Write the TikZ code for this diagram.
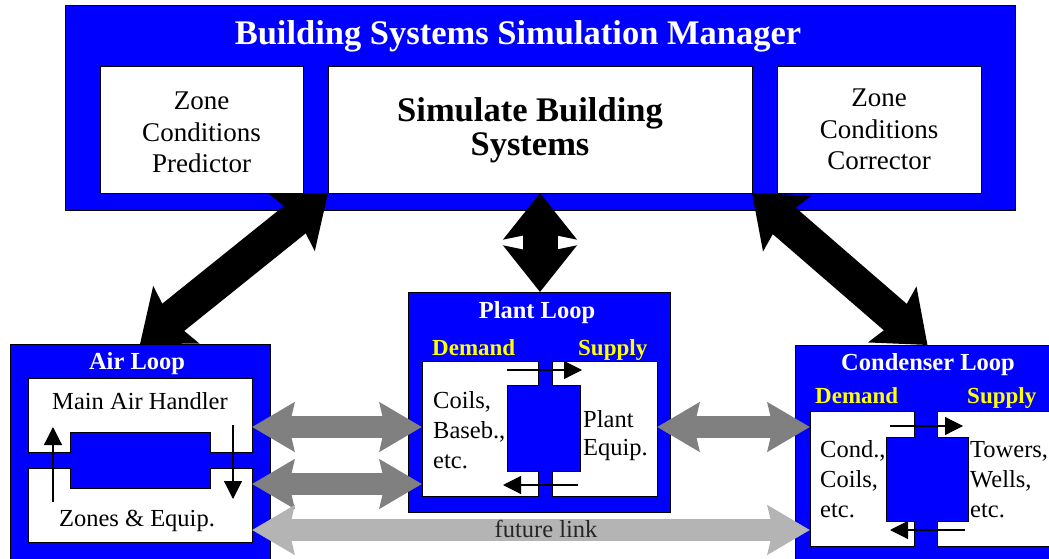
\documentclass[tikz,border=0pt]{standalone}
\usepackage{fontspec}
\setmainfont{Liberation Serif}
\usetikzlibrary{arrows.meta}
\definecolor{loopblue}{RGB}{0,0,255}
\definecolor{darkgrey}{RGB}{128,128,128}
\definecolor{lightgrey}{RGB}{180,180,180}
\definecolor{labelyellow}{RGB}{255,255,0}
\begin{document}
\begin{tikzpicture}[x=1pt,y=-1pt,
  bluebox/.style={draw=black, fill=loopblue, line width=0.8pt, inner sep=0pt, outer sep=0pt},
  whitebox/.style={draw=black, fill=white, line width=0.8pt, inner sep=0pt, outer sep=0pt},
  whiteshape/.style={draw=black, fill=white, line width=0.8pt},
  bigarrow/.style={line width=35pt, black, {Stealth[length=46pt,width=72pt,inset=7pt]}-{Stealth[length=46pt,width=72pt,inset=7pt]}},
  greyarrow/.style={line width=22pt, darkgrey, {Stealth[length=42pt,width=48pt,inset=5pt]}-{Stealth[length=42pt,width=48pt,inset=5pt]}},
  futurearrow/.style={line width=22pt, lightgrey, {Stealth[length=42pt,width=48pt,inset=5pt]}-{Stealth[length=42pt,width=48pt,inset=5pt]}},
  flowarrow/.style={line width=1.2pt, black, -{Triangle[length=18pt,width=18pt]}},
  titletext/.style={inner sep=0pt, text=white, font=\fontsize{34.5}{36}\selectfont\bfseries},
  boldtext/.style={inner sep=0pt, font=\fontsize{34.5}{34}\selectfont\bfseries, align=center},
  toptext/.style={inner sep=0pt, font=\fontsize{27}{31.5}\selectfont, align=center},
  loopname/.style={inner sep=0pt, text=white, font=\fontsize{24.5}{28}\selectfont\bfseries},
  sidelabel/.style={inner sep=0pt, text=labelyellow, font=\fontsize{23}{26}\selectfont\bfseries},
  itemtext/.style={inner sep=0pt, font=\fontsize{24.5}{30}\selectfont, align=left},
  linktext/.style={inner sep=0pt, text=black!85, font=\fontsize{24.5}{28}\selectfont}
]
\useasboundingbox (0,0) rectangle (1049,559);
\clip (0,0) rectangle (1049,559);

% ---------- manager ----------
\node[bluebox, minimum width=950pt, minimum height=205pt] (mgr) at (540,107.5) {};
\node[whitebox, minimum width=203pt, minimum height=127pt] (pred) at (201.5,129.5) {};
\node[whitebox, minimum width=424pt, minimum height=127pt] (sim) at (540,129.5) {};
\node[whitebox, minimum width=204pt, minimum height=127pt] (corr) at (879,129.5) {};
\node[titletext, anchor=base] (title) at (518,45) {Building Systems Simulation Manager};
\node[toptext] (predtxt) at (201.5,132.5) {Zone\\Conditions\\Predictor};
\node[boldtext] (simtxt) at (530,130.5) {Simulate Building\\Systems};
\node[toptext] (corrtxt) at (879,129.5) {Zone\\Conditions\\Corrector};

% ---------- air loop ----------
\node[bluebox, minimum width=260pt, minimum height=226pt] (air) at (140,457) {};
\draw[whiteshape] (28,378) -- (252,378) -- (252,452) -- (210,452) -- (210,432) -- (70,432) -- (70,452) -- (28,452) -- cycle;
\draw[whiteshape] (28,468) -- (70,468) -- (70,488) -- (210,488) -- (210,468) -- (252,468) -- (252,542) -- (28,542) -- cycle;
\node[loopname, anchor=base] (airname) at (137,369) {Air Loop};
\node[itemtext, anchor=base] (mah) at (140,409) {Main Air Handler};
\node[itemtext, anchor=base] (zeq) at (137,526) {Zones \& Equip.};
\coordinate (airUpS) at (53,502);
\coordinate (airUpE) at (53,427);
\coordinate (airDnS) at (233,425);
\coordinate (airDnE) at (233,499);
\draw[flowarrow] (airUpS) -- (airUpE);
\draw[flowarrow] (airDnS) -- (airDnE);

% ---------- plant loop ----------
\node[bluebox, minimum width=262pt, minimum height=220pt] (plant) at (539,402) {};
\draw[whiteshape] (422,361) -- (538,361) -- (538,385) -- (507,385) -- (507,471) -- (538,471) -- (538,496) -- (422,496) -- cycle;
\draw[whiteshape] (552,361) -- (657,361) -- (657,496) -- (552,496) -- (552,471) -- (580,471) -- (580,385) -- (552,385) -- cycle;
\node[loopname, anchor=base] (plantname) at (537,318) {Plant Loop};
\node[sidelabel, anchor=base west] (pdem) at (432,355) {Demand};
\node[sidelabel, anchor=base west] (psup) at (578,355) {Supply};
\node[itemtext, anchor=north west] (coils) at (433,391.3) {Coils,\\Baseb.,\\etc.};
\node[itemtext, anchor=north west, font=\fontsize{24.5}{28}\selectfont] (pequip) at (583,410.3) {Plant\\Equip.};
\coordinate (pTopS) at (507,370);
\coordinate (pTopE) at (582,370);
\coordinate (pBotS) at (578,485);
\coordinate (pBotE) at (503,485);
\draw[flowarrow] (pTopS) -- (pTopE);
\draw[flowarrow] (pBotS) -- (pBotE);

% ---------- condenser loop ----------
\node[bluebox, minimum width=265pt, minimum height=225pt] (cond) at (927.5,457.5) {};
\draw[whiteshape] (810,411) -- (914,411) -- (914,437) -- (886,437) -- (886,521) -- (914,521) -- (914,546) -- (810,546) -- cycle;
\draw[whiteshape] (937,411) -- (1060,411) -- (1060,546) -- (937,546) -- (937,521) -- (968,521) -- (968,437) -- (937,437) -- cycle;
\node[loopname, anchor=base] (condname) at (928,370) {Condenser Loop};
\node[sidelabel, anchor=base west] (cdem) at (815,403) {Demand};
\node[sidelabel, anchor=base west] (csup) at (967,403) {Supply};
\node[itemtext, anchor=north west] (condtxt) at (820,440.3) {Cond.,\\Coils,\\etc.};
\node[itemtext, anchor=north west] (towtxt) at (970,440.8) {Towers,\\Wells,\\etc.};
\coordinate (cTopS) at (890,426);
\coordinate (cTopE) at (963,426);
\coordinate (cBotS) at (965,530);
\coordinate (cBotE) at (890,530);
\draw[flowarrow] (cTopS) -- (cTopE);
\draw[flowarrow] (cBotS) -- (cBotE);

% ---------- grey links ----------
\coordinate (l1a) at (252,427);
\coordinate (l1b) at (422,427);
\coordinate (l2a) at (252,484);
\coordinate (l2b) at (422,484);
\coordinate (l3a) at (657,427);
\coordinate (l3b) at (810,427);
\coordinate (fla) at (252,530);
\coordinate (flb) at (810,530);
\draw[greyarrow] (l1a) -- (l1b);
\draw[greyarrow] (l2a) -- (l2b);
\draw[greyarrow] (l3a) -- (l3b);
\draw[futurearrow] (fla) -- (flb);
\node[linktext, anchor=base] (fltxt) at (546,537) {future link};

% ---------- black links ----------
\draw[bigarrow] (sim.south west) -- (air.north);
\draw[bigarrow] (sim.south) -- (sim.south |- plant.north);
\draw[bigarrow] (sim.south east) -- (cond.north);
\end{tikzpicture}
\end{document}
